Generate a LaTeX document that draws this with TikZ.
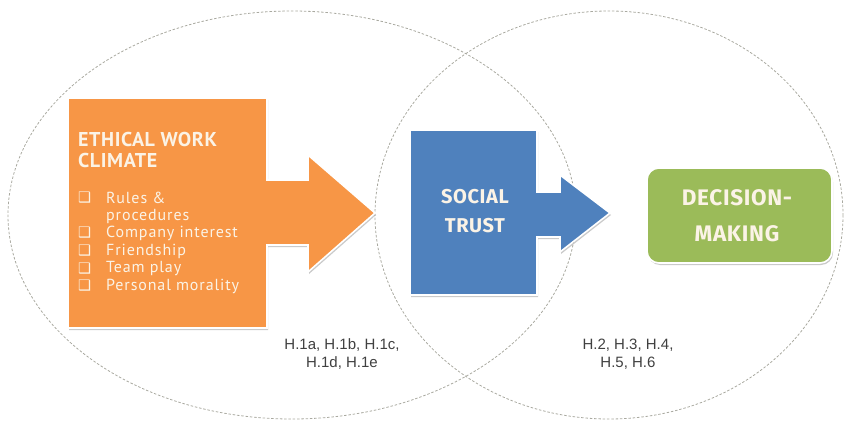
\documentclass[tikz,border=0pt]{standalone}
\usepackage{fontspec}
\setmainfont{Fira Sans}
\newfontfamily\labfont{Liberation Sans}
\newfontfamily\boxfont[LetterSpace=3]{PT Sans}
\newfontfamily\itemfont[LetterSpace=5.5]{PT Sans}
\newfontfamily\ctrfont[LetterSpace=3]{Fira Sans}
\newfontfamily\symfont{DejaVu Sans}
\usetikzlibrary{shadows}
\definecolor{orangeF}{HTML}{F79646}
\definecolor{blueF}{HTML}{4F81BD}
\definecolor{greenF}{HTML}{9BBB59}
\definecolor{ellC}{HTML}{A9A9A0}
\definecolor{txtW}{HTML}{FBF3E6}
\tikzset{
  ell/.style={draw=ellC, line width=0.8pt, dash pattern=on 2.5pt off 1.8pt},
  shapebox/.style={draw=white, line width=1.6pt, line join=miter,
    drop shadow={opacity=0.35, shadow xshift=1pt, shadow yshift=-2pt, fill=black!60}},
  titletxt/.style={text=txtW, font=\boxfont\bfseries\fontsize{20}{22}\selectfont, anchor=west, inner sep=0pt},
  itemtxt/.style={text=txtW, font=\itemfont\fontsize{16}{16}\selectfont, anchor=west, inner sep=0pt},
  bul/.style={text=txtW, font=\symfont\fontsize{14.5}{14.5}\selectfont, anchor=west, inner sep=0pt},
  centertxt/.style={text=txtW, font=\ctrfont\bfseries\fontsize{22.5}{24}\selectfont, inner sep=0pt},
  hyp/.style={text=black!75, font=\labfont\fontsize{15}{18}\selectfont, align=center, inner sep=0pt}
}
\begin{document}
\begin{tikzpicture}[x=1pt,y=-1pt]
\useasboundingbox (0,0) rectangle (844,423);
% ellipses
\draw[ell] (292,215) ellipse [x radius=284, y radius=204];
\draw[ell] (609,215) ellipse [x radius=234, y radius=204];
% orange arrow shape
\path[shapebox, fill=orangeF] (68,98) -- (267,98) -- (267,180) -- (308,180) -- (308,155) -- (375,213)
  -- (308,272) -- (308,245) -- (267,245) -- (267,328) -- (68,328) -- cycle;
% blue arrow shape
\path[shapebox, fill=blueF] (410,130) -- (537,130) -- (537,192) -- (560,192) -- (560,175) -- (610,213)
  -- (560,252) -- (560,237) -- (537,237) -- (537,295) -- (410,295) -- cycle;
% green box
\path[shapebox, fill=greenF, rounded corners=12pt] (647,168) rectangle (832,263);
% texts orange
\node[titletxt] (t1) at (78,139) {ETHICAL WORK};
\node[titletxt] (t2) at (78,160) {CLIMATE};
\node[bul] (b1) at (78,198) {❑};
\node[itemtxt] (i1) at (106,198) {Rules \&};
\node[itemtxt] (i1b) at (106,216) {procedures};
\node[bul] (b2) at (78,233) {❑};
\node[itemtxt] (i2) at (106,233) {Company interest};
\node[bul] (b3) at (78,251) {❑};
\node[itemtxt] (i3) at (106,251) {Friendship};
\node[bul] (b4) at (78,269) {❑};
\node[itemtxt] (i4) at (106,269) {Team play};
\node[bul] (b5) at (78,286) {❑};
\node[itemtxt] (i5) at (106,286) {Personal morality};
% blue text
\node[centertxt, font=\ctrfont\bfseries\fontsize{20}{22}\selectfont] (s1) at (475,197) {SOCIAL};
\node[centertxt, font=\ctrfont\bfseries\fontsize{20}{22}\selectfont] (s2) at (475,226) {TRUST};
% green text
\node[centertxt] (d1) at (737,198) {DECISION-};
\node[centertxt] (d2) at (737,234) {MAKING};
% hypotheses
\node[hyp] (h1) at (342,354) {H.1a, H.1b, H.1c,\\H.1d, H.1e};
\node[hyp] (h2) at (628,354) {H.2, H.3, H.4,\\H.5, H.6};
\end{tikzpicture}
\end{document}
